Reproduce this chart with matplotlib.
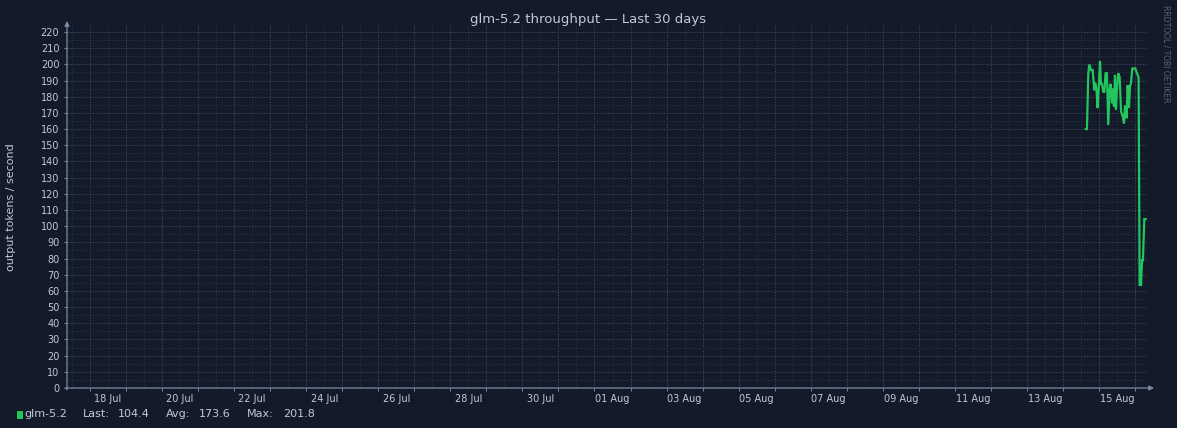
import pandas as pd
import numpy as np
import matplotlib
matplotlib.use("Agg")
import matplotlib.pyplot as plt
import matplotlib.dates as mdates
from matplotlib.ticker import MultipleLocator, NullFormatter, FuncFormatter
from matplotlib.patches import Rectangle

# series: hours after 14 Aug 00:00 and tokens/s
hours = [3.3, 4.0, 4.9, 5.6, 6.7, 7.8, 8.9, 9.6, 10.4, 11.1, 12.0, 12.7, 13.3,
         14.0, 14.9, 15.6, 16.4, 17.3, 18.2, 19.1, 19.8, 20.7, 21.3, 22.0, 22.7,
         23.3, 24.0, 24.9, 25.8, 26.7, 27.8, 28.7, 29.3, 29.8, 30.4, 31.1, 32.0,
         32.7, 33.3, 34.2, 35.1, 36.2, 37.3, 38.4, 39.1, 40.0, 40.7, 41.3, 42.2,
         43.1]
tokens = [160, 160, 194.5, 200, 196.5, 196.5, 184, 188.7, 184, 173, 188, 201.8,
          188, 188, 183, 183, 194.5, 194.5, 162.5, 185, 188, 176, 185, 174, 193.5,
          172, 185, 194.5, 192, 171, 168, 163.5, 174, 174, 166.7, 187, 173, 187,
          188, 197.5, 197.5, 197.5, 194.5, 192, 63.7, 63.7, 79, 79, 104.4, 104.4]
series_name = "glm-5.2"
stats_names = ["Last:", "Avg:", "Max:"]
stats_values = [104.4, 173.6, 201.8]

t0 = pd.Timestamp("2025-08-14")
times = [t0 + pd.Timedelta(hours=h) for h in hours]
first_label = pd.Timestamp("2025-07-18")
x_start = first_label - pd.Timedelta(days=41 / 36)
x_end = x_start + pd.Timedelta(days=30)

bg = "#131a2a"
txt = "#c3c8d2"
grid_major = "#3a4457"
grid_minor = "#252e40"
axis_col = "#7f8aa0"
green = "#22c55e"

W, H = 1177, 428
fig = plt.figure(figsize=(W / 100, H / 100), dpi=100, facecolor=bg)
ax = fig.add_axes((67 / W, 40 / H, 1081 / W, 363 / H), facecolor=bg)

ax.plot(times, tokens, color=green, lw=1.6, solid_joinstyle="miter")

ax.set_xlim(x_start, x_end)
ax.set_ylim(0, 363 / 1.618)

# y grid: bright every 10, faint every 5
ax.yaxis.set_major_locator(MultipleLocator(10))
ax.yaxis.set_minor_locator(MultipleLocator(5))
# x grid: bright at noon, faint at midnight (labels at midnight)
ax.xaxis.set_major_locator(mdates.HourLocator(byhour=12))
ax.xaxis.set_major_formatter(NullFormatter())
ax.xaxis.set_minor_locator(mdates.DayLocator())


def day_label(x, pos):
    d = mdates.num2date(round(x)).replace(tzinfo=None)
    if (pd.Timestamp(d) - first_label).days % 2 == 0:
        return d.strftime("%d %b")
    return ""


ax.xaxis.set_minor_formatter(FuncFormatter(day_label))

dots = (0, (1.4, 1.4))
ax.grid(True, which="major", color=grid_major, lw=0.72, linestyle=dots)
ax.grid(True, which="minor", color=grid_minor, lw=0.72, linestyle=dots)
ax.set_axisbelow(True)

ax.tick_params(axis="y", which="major", length=2.5, width=0.7, color=axis_col,
               labelcolor=txt, labelsize=7, pad=3)
ax.tick_params(axis="y", which="minor", length=0)
ax.tick_params(axis="x", which="major", length=2, width=0.7, color=axis_col)
ax.tick_params(axis="x", which="minor", length=0, labelcolor=txt,
               labelsize=7, pad=4)

for s in ax.spines.values():
    s.set_visible(False)

# axis lines with arrow heads
arrow = dict(arrowstyle="-|>", color=axis_col, lw=0.9, mutation_scale=7,
             shrinkA=0, shrinkB=0)
ax.annotate("", xy=(0, 1 + 4 / 363), xytext=(0, -2 / 363),
            xycoords="axes fraction", arrowprops=arrow, annotation_clip=False)
ax.annotate("", xy=(1 + 6 / 1081, 0), xytext=(-2 / 1081, 0),
            xycoords="axes fraction", arrowprops=arrow, annotation_clip=False)

fig.text(0.5, 1 - 19 / H, "glm-5.2 throughput \u2014 Last 30 days", color=txt,
         fontsize=9.5, ha="center", va="center")
fig.text(11 / W, 1 - 207 / H, "output tokens / second", color=txt, fontsize=8,
         rotation=90, ha="center", va="center")
fig.text(1166 / W, 1 - 5 / H, "RRDTOOL / TOBI OETIKER", color="#5b6374",
         fontsize=5.5, rotation=-90, ha="center", va="top")

# legend row
fig.patches.append(Rectangle((15.5 / W, 1 - 418.5 / H), 7.5 / W, 8.5 / H,
                             transform=fig.transFigure, facecolor=green,
                             edgecolor="#05080d", lw=0.6))
ly = 1 - 414 / H
fig.text(24 / W, ly, series_name, color=txt, fontsize=8, va="center")
name_x = [83, 166, 247]
val_x = [118, 199, 283]
for nm, v, nx, vx in zip(stats_names, stats_values, name_x, val_x):
    fig.text(nx / W, ly, nm, color=txt, fontsize=8, va="center")
    fig.text(vx / W, ly, f"{v:.1f}", color=txt, fontsize=8, va="center")

fig.savefig("out.png", dpi=100, facecolor=bg)
